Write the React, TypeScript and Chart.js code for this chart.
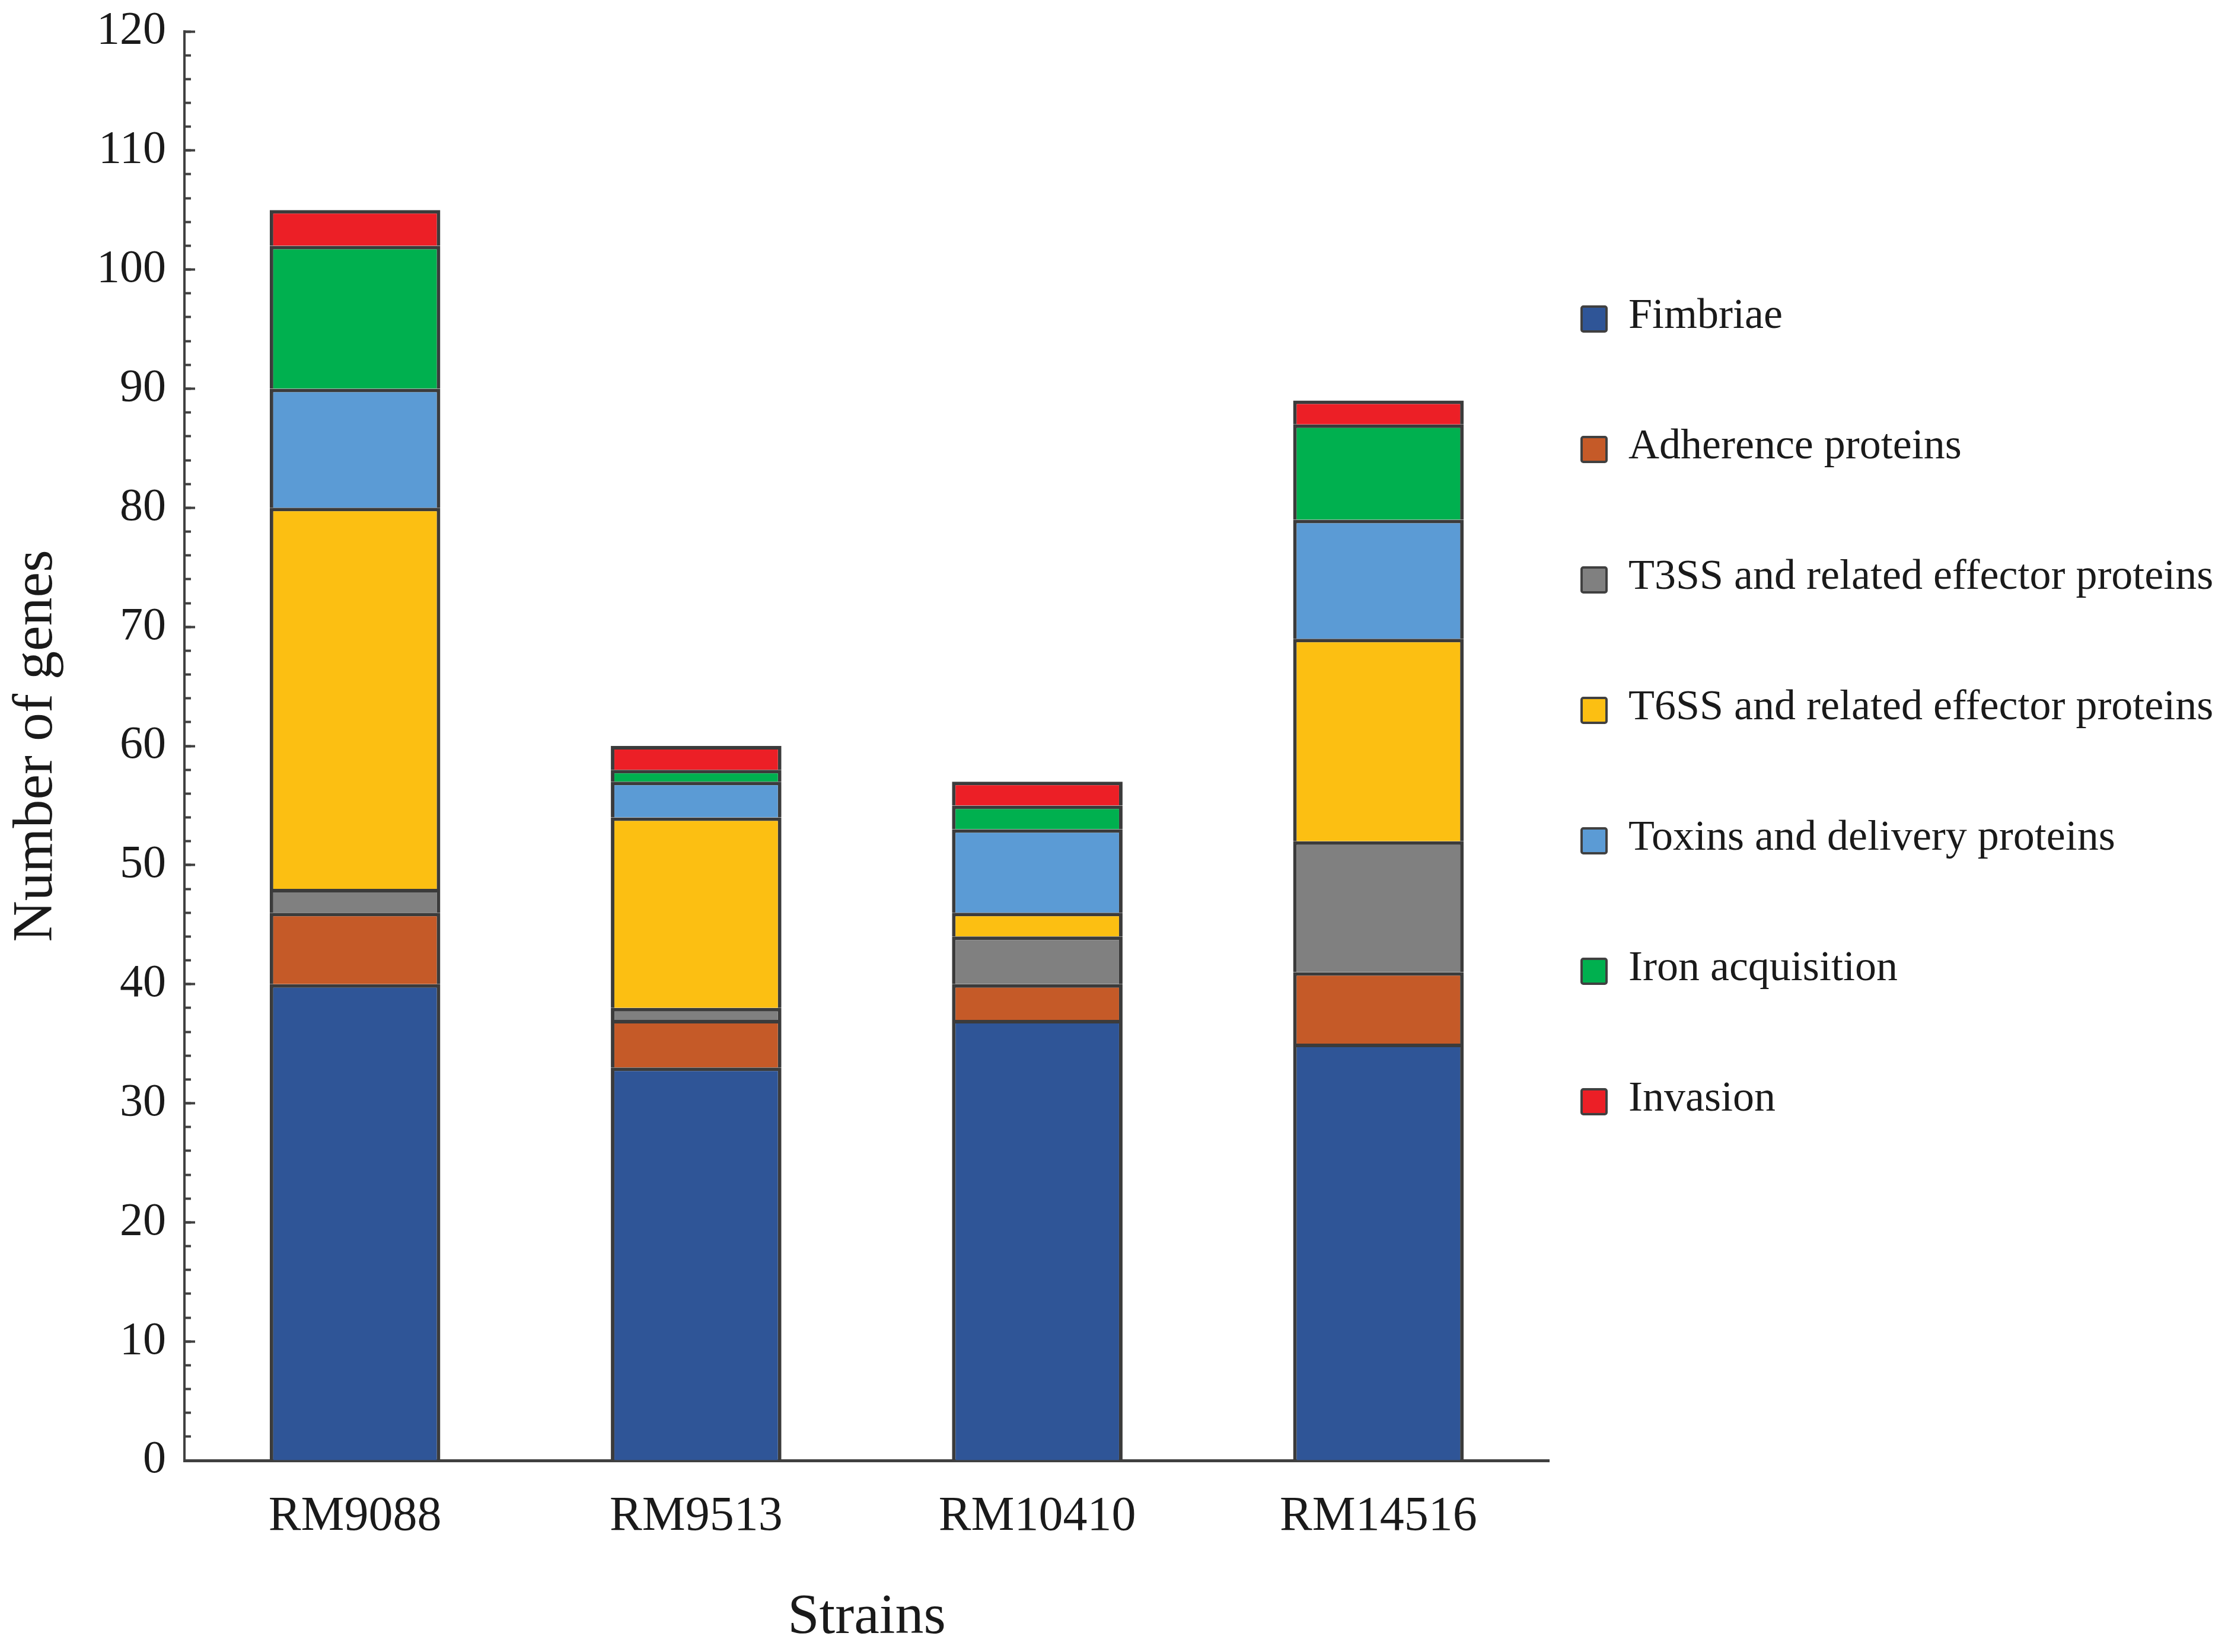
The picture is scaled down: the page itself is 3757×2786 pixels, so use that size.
import { useEffect, useRef } from "react"
import { Chart, registerables } from "chart.js"

Chart.register(...registerables)

const strains = ["RM9088", "RM9513", "RM10410", "RM14516"]

const groups = [
  "Fimbriae",
  "Adherence proteins",
  "T3SS and related effector proteins",
  "T6SS and related effector proteins",
  "Toxins and delivery proteins",
  "Iron acquisition",
  "Invasion",
]

// genes per strain, one array per group
const fimbriae = [40, 33, 37, 35]
const adherence = [6, 4, 3, 6]
const t3ss = [2, 1, 4, 11]
const t6ss = [32, 16, 2, 17]
const toxins = [10, 3, 7, 10]
const iron = [12, 1, 2, 8]
const invasion = [3, 2, 2, 2]

const groupValues = [fimbriae, adherence, t3ss, t6ss, toxins, iron, invasion]
const groupColors = ["#2f5597", "#c55a28", "#808080", "#fcbf12", "#5b9bd5", "#00b04f", "#ec1f26"]

const yMax = 120
const yMajorStep = 10
const yMinorStep = 2

const SERIF = "'Liberation Serif', 'DejaVu Serif', 'Times New Roman', serif"
const INK = "#1a1a1a"
const AXIS = "#404040"

// legend drawn at the right side, one row per dataset
const sideLegend = {
  id: "sideLegend",
  afterDraw(chart: Chart) {
    const ctx = chart.ctx
    const boxX = 2667
    const boxSize = 42
    const textX = 2746
    const firstY = 534
    const rowStep = 220
    ctx.save()
    ctx.font = `72px ${SERIF}`
    ctx.textBaseline = "middle"
    ctx.textAlign = "left"
    chart.data.datasets.forEach((ds, i) => {
      const y = firstY + i * rowStep
      ctx.beginPath()
      ctx.roundRect(boxX, y - boxSize / 2 + 4, boxSize, boxSize, 3)
      ctx.fillStyle = ds.backgroundColor as string
      ctx.fill()
      ctx.lineWidth = 4
      ctx.strokeStyle = AXIS
      ctx.stroke()
      ctx.fillStyle = INK
      ctx.fillText(ds.label as string, textX, y)
    })
    ctx.restore()
  },
}

export default function App() {
  const chartRef = useRef<HTMLCanvasElement>(null)
  const chartInstance = useRef<Chart | null>(null)

  useEffect(() => {
    if (!chartRef.current) return
    if (chartInstance.current) chartInstance.current.destroy()

    const ctx = chartRef.current.getContext("2d")
    if (!ctx) return

    chartInstance.current = new Chart(ctx, {
      type: "bar",
      data: {
        labels: strains,
        datasets: groups.map((g, i) => ({
          label: g,
          data: groupValues[i],
          backgroundColor: groupColors[i],
          borderColor: "#3b3b3b",
          borderWidth: 6,
          barPercentage: 0.5,
          categoryPercentage: 1,
          yAxisID: "y",
        })),
      },
      options: {
        responsive: true,
        maintainAspectRatio: false,
        animation: false,
        layout: {
          padding: { top: 53, right: 1145, bottom: 0, left: 0 },
        },
        plugins: {
          legend: { display: false },
          tooltip: { enabled: false },
        },
        scales: {
          x: {
            stacked: true,
            offset: true,
            grid: { display: false, drawTicks: false },
            border: { display: true, color: AXIS, width: 5 },
            ticks: {
              color: INK,
              padding: 46,
              font: { family: SERIF, size: 82 },
            },
            title: {
              display: true,
              text: "Strains",
              color: INK,
              padding: { top: 0, bottom: 0 },
              font: { family: SERIF, size: 96 },
            },
            afterFit: (scale) => {
              scale.height = 323
            },
          },
          y: {
            stacked: true,
            position: "left",
            weight: 1,
            min: 0,
            max: yMax,
            grid: {
              drawOnChartArea: false,
              tickLength: -18,
              tickWidth: 4,
              tickColor: AXIS,
            },
            border: { display: true, color: AXIS, width: 4 },
            ticks: {
              stepSize: yMajorStep,
              color: INK,
              padding: 49,
              // small line height keeps the top label from pushing the plot down
              font: { family: SERIF, size: 78, lineHeight: 0.05 },
            },
            title: {
              display: true,
              text: "Number of genes",
              color: INK,
              padding: { top: 4, bottom: 0 },
              font: { family: SERIF, size: 96 },
            },
            afterFit: (scale) => {
              scale.width = 311
            },
          },
          yMinor: {
            type: "linear",
            position: "left",
            weight: 0,
            min: 0,
            max: yMax,
            grid: {
              drawOnChartArea: false,
              tickLength: -11,
              tickWidth: 4,
              tickColor: AXIS,
            },
            border: { display: false },
            ticks: { display: false, stepSize: yMinorStep, autoSkip: false },
            afterFit: (scale) => {
              scale.width = 0
            },
          },
        },
      },
      plugins: [sideLegend],
    })

    return () => {
      if (chartInstance.current) {
        chartInstance.current.destroy()
        chartInstance.current = null
      }
    }
  }, [])

  return (
    <div style={{ position: "absolute", left: 0, top: 0, width: 3757, height: 2786 }}>
      <canvas ref={chartRef} />
    </div>
  )
}
